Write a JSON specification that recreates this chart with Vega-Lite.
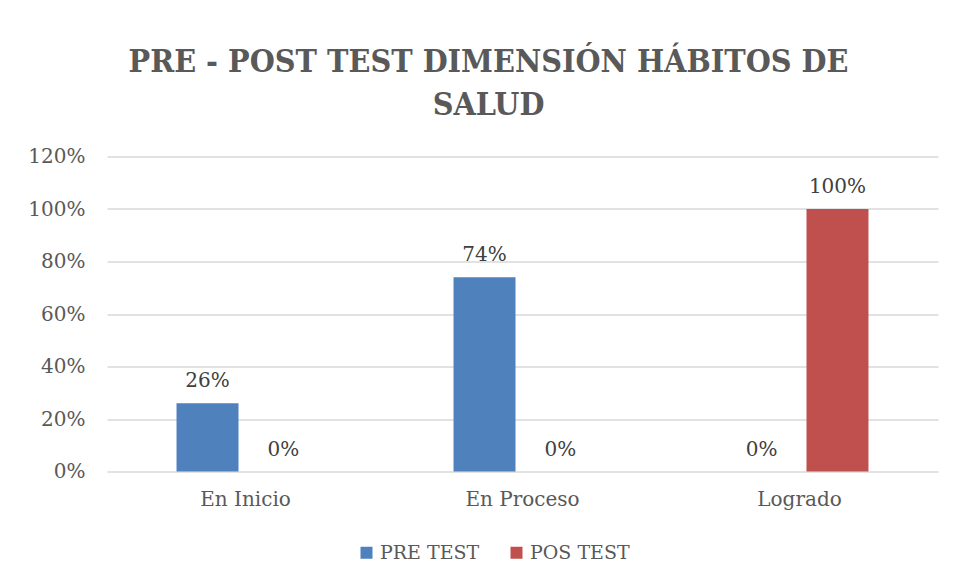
{
  "$schema": "https://vega.github.io/schema/vega-lite/v6.json",
  "width": 831,
  "height": 315,
  "autosize": {"type": "none"},
  "padding": {"left": 107, "top": 156.5, "right": 16, "bottom": 111.5},
  "background": "white",
  "config": {"view": {"stroke": null}},
  "title": {
    "text": ["PRE - POST TEST DIMENSIÓN HÁBITOS DE", "SALUD"],
    "font": "DejaVu Serif Condensed, DejaVu Serif",
    "fontSize": 32,
    "fontWeight": "bold",
    "color": "#595959",
    "anchor": "middle",
    "frame": "group",
    "dx": -34,
    "offset": 25,
    "lineHeight": 43
  },
  "data": {
    "values": [
      {"nivel": "En Inicio", "grupo": "PRE TEST", "valor": 0.26},
      {"nivel": "En Inicio", "grupo": "POS TEST", "valor": 0},
      {"nivel": "En Proceso", "grupo": "PRE TEST", "valor": 0.74},
      {"nivel": "En Proceso", "grupo": "POS TEST", "valor": 0},
      {"nivel": "Logrado", "grupo": "PRE TEST", "valor": 0},
      {"nivel": "Logrado", "grupo": "POS TEST", "valor": 1.0}
    ]
  },
  "encoding": {
    "x": {
      "field": "nivel",
      "type": "nominal",
      "sort": ["En Inicio", "En Proceso", "Logrado"],
      "scale": {"paddingInner": 0.502, "paddingOuter": 0.251},
      "axis": {
        "title": null,
        "labelAngle": 0,
        "labelFont": "DejaVu Serif",
        "labelFontSize": 20,
        "labelColor": "#595959",
        "labelPadding": 18,
        "ticks": false,
        "domain": false
      }
    },
    "xOffset": {
      "field": "grupo",
      "sort": ["PRE TEST", "POS TEST"],
      "scale": {"paddingInner": 0.184, "paddingOuter": 0}
    },
    "y": {
      "field": "valor",
      "type": "quantitative",
      "scale": {"domain": [0, 1.2]},
      "axis": {
        "title": null,
        "format": ".0%",
        "values": [0, 0.2, 0.4, 0.6, 0.8, 1.0, 1.2],
        "labelFont": "DejaVu Serif",
        "labelFontSize": 20,
        "labelColor": "#595959",
        "labelPadding": 22,
        "ticks": false,
        "domain": false,
        "gridColor": "#D9D9D9",
        "gridWidth": 1.5
      }
    }
  },
  "layer": [
    {
      "mark": {"type": "bar"},
      "encoding": {
        "color": {
          "field": "grupo",
          "type": "nominal",
          "scale": {"domain": ["PRE TEST", "POS TEST"], "range": ["#4F81BD", "#C0504D"]},
          "legend": {
            "orient": "none",
            "legendX": 250,
            "legendY": 386.5,
            "direction": "horizontal",
            "title": null,
            "symbolType": "square",
            "symbolSize": 144,
            "symbolStrokeWidth": 0,
            "labelFont": "DejaVu Serif",
            "labelFontSize": 19,
            "labelColor": "#595959",
            "labelOffset": 4,
            "columnPadding": 27
          }
        }
      }
    },
    {
      "mark": {"type": "text", "font": "DejaVu Serif", "fontSize": 20, "color": "#404040", "baseline": "alphabetic", "dy": -16},
      "encoding": {
        "text": {"field": "valor", "type": "quantitative", "format": ".0%"}
      }
    }
  ]
}
